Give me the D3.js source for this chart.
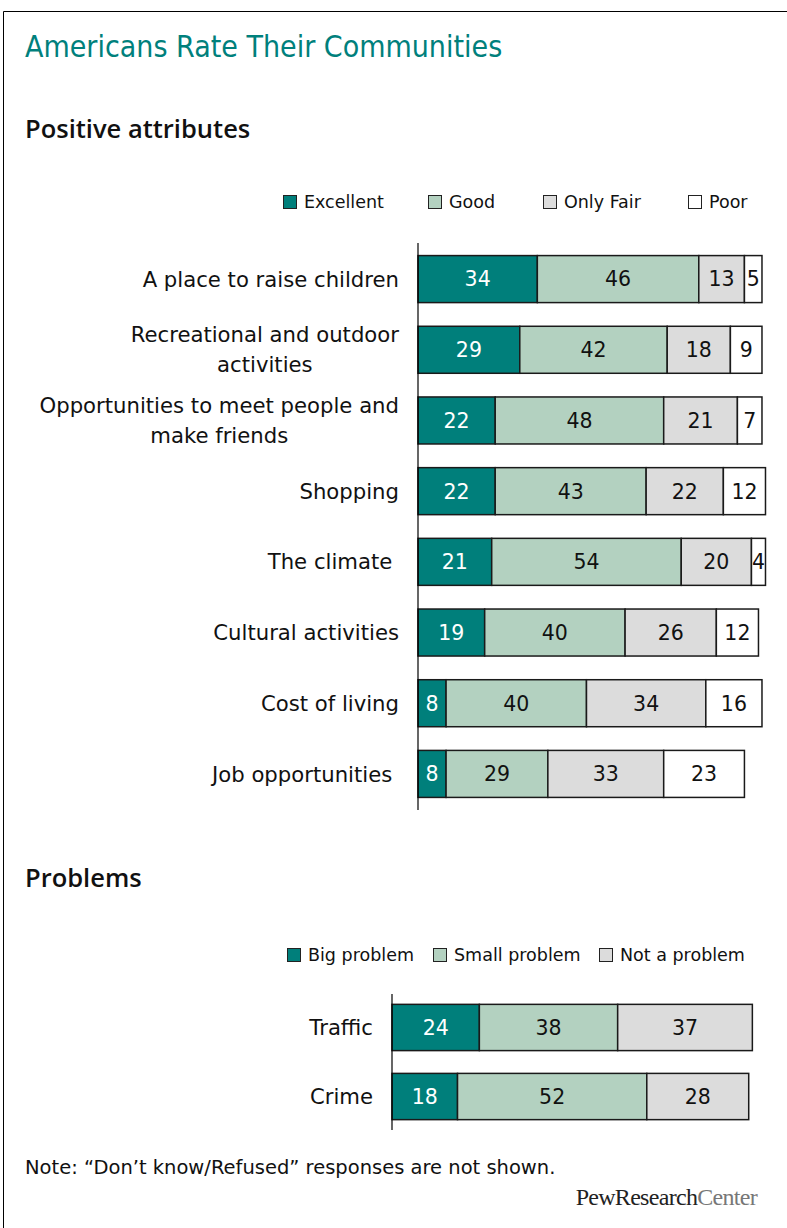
<!DOCTYPE html>
<html>
<head>
<meta charset="utf-8">
<script src="https://cdn.jsdelivr.net/npm/d3@7"></script>
<style>
  html, body { margin: 0; padding: 0; background: #fff; }
  svg { display: block; }
</style>
</head>
<body>
<svg id="chart" width="787" height="1228"></svg>
<script>
// ---- data ----
const posCategories = [
  "A place to raise children",
  "Recreational and outdoor|activities",
  "Opportunities to meet people and|make friends",
  "Shopping",
  "The climate ",
  "Cultural activities",
  "Cost of living",
  "Job opportunities "
];
const posSeries = ["Excellent", "Good", "Only Fair", "Poor"];
const excellent = [34, 29, 22, 22, 21, 19, 8, 8];
const good      = [46, 42, 48, 43, 54, 40, 40, 29];
const onlyFair  = [13, 18, 21, 22, 20, 26, 34, 33];
const poor      = [5, 9, 7, 12, 4, 12, 16, 23];

const probCategories = ["Traffic", "Crime"];
const probSeries = ["Big problem", "Small problem", "Not a problem"];
const bigProblem   = [24, 18];
const smallProblem = [38, 52];
const notProblem   = [37, 28];

const titleText = "Americans Rate Their Communities";
const noteText = "Note: \u201CDon\u2019t know/Refused\u201D responses are not shown.";

// ---- styles ----
const colors4 = ["#007f7b", "#b3d1c0", "#dcdcdc", "#ffffff"];
const colors3 = ["#007f7b", "#b3d1c0", "#dcdcdc"];
const labelFont = "'DejaVu Sans', sans-serif";
const narrowFont = "'DejaVu Sans Condensed', 'DejaVu Sans', sans-serif";

const svg = d3.select("#chart");

// frame (left + top border)
svg.append("path")
  .attr("d", "M3.5,1228 V11.5 H787")
  .attr("fill", "none").attr("stroke", "#000").attr("stroke-width", 1);

// title
svg.append("text").attr("x", 25).attr("y", 57)
  .attr("font-family", narrowFont).attr("font-size", 30)
  .attr("fill", "#00807c").text(titleText);

function sectionHeader(txt, y) {
  svg.append("text").attr("x", 25).attr("y", y)
    .attr("font-family", "'Open Sans', sans-serif").attr("font-weight", 600)
    .attr("font-size", 25.5).attr("fill", "#111").text(txt);
}
sectionHeader("Positive attributes", 138);
sectionHeader("Problems", 887);

function legend(names, cols, xs, y) {
  const g = svg.append("g");
  names.forEach((n, i) => {
    g.append("rect").attr("x", xs[i] + 0.5).attr("y", y - 12.5)
      .attr("width", 13).attr("height", 13)
      .attr("fill", cols[i]).attr("stroke", "#222").attr("stroke-width", 1);
    g.append("text").attr("x", xs[i] + 21).attr("y", y)
      .attr("font-family", labelFont).attr("font-size", 17.5)
      .attr("fill", "#111").text(n);
  });
}

function stackedChart(opts) {
  const { cats, series, values, cols, x0, unit, yTop, yBot, padIn, padOut, labelRight } = opts;
  const rows = cats.map((c, i) => {
    const o = { cat: c };
    series.forEach((s, j) => o[s] = values[j][i]);
    return o;
  });
  const stack = d3.stack().keys(series)(rows);
  const x = d3.scaleLinear().domain([0, 100]).range([x0, x0 + unit * 100]);
  const y = d3.scaleBand().domain(cats).range([yTop, yBot])
    .paddingInner(padIn).paddingOuter(padOut);

  const g = svg.append("g");
  stack.forEach((layer, j) => {
    const lg = g.append("g");
    lg.selectAll("rect").data(layer).join("rect")
      .attr("x", d => x(d[0]))
      .attr("y", d => y(d.data.cat))
      .attr("width", d => x(d[1]) - x(d[0]))
      .attr("height", y.bandwidth())
      .attr("fill", cols[j]).attr("stroke", "#1a1a1a").attr("stroke-width", 1.5);
    lg.selectAll("text").data(layer).join("text")
      .attr("x", d => (x(d[0]) + x(d[1])) / 2)
      .attr("y", d => y(d.data.cat) + y.bandwidth() / 2)
      .attr("dy", "0.36em")
      .attr("text-anchor", "middle")
      .attr("font-family", labelFont).attr("font-size", 20.5)
      .attr("fill", j === 0 ? "#fff" : "#111")
      .text(d => d[1] - d[0]);
  });

  // axis line
  const axis = d3.axisLeft(y).tickSize(0).tickFormat("");
  const ag = g.append("g").attr("transform", `translate(${x0},0)`).call(axis);
  ag.select(".domain").attr("stroke", "#000").attr("stroke-width", 1.2)
    .attr("d", `M0,${yTop}V${yBot}`);

  // category labels
  const fs = 21.2;
  cats.forEach(c => {
    const lines = c.split("|");
    const cy = y(c) + y.bandwidth() / 2;
    const lh = 30;
    const t = g.append("text")
      .attr("font-family", labelFont).attr("font-size", fs)
      .attr("fill", "#111").style("white-space", "pre");
    if (lines.length === 1) {
      t.attr("x", labelRight).attr("y", cy).attr("dy", "0.36em")
        .attr("text-anchor", "end").text(lines[0]);
    } else {
      const tmp = svg.append("text").attr("font-family", labelFont)
        .attr("font-size", fs).text(lines[0]);
      const w = tmp.node().getComputedTextLength();
      tmp.remove();
      const cx = labelRight - w / 2;
      lines.forEach((ln, k) => {
        t.append("tspan").attr("x", cx).attr("text-anchor", "middle")
          .attr("y", cy + (k - (lines.length - 1) / 2) * lh)
          .attr("dy", "0.36em").text(ln);
      });
    }
  });
}

legend(posSeries, colors4, [283, 428, 543, 688], 208);
stackedChart({
  cats: posCategories, series: posSeries,
  values: [excellent, good, onlyFair, poor], cols: colors4,
  x0: 418, unit: 3.51, yTop: 243, yBot: 810, padIn: 0.335, padOut: 0.178,
  labelRight: 399
});

legend(probSeries, colors3, [287, 433, 599], 961);
stackedChart({
  cats: probCategories, series: probSeries,
  values: [bigProblem, smallProblem, notProblem], cols: colors3,
  x0: 392, unit: 3.64, yTop: 994, yBot: 1130, padIn: 0.33, padOut: 0.15,
  labelRight: 373
});

// note
svg.append("text").attr("x", 25).attr("y", 1174)
  .attr("font-family", labelFont).attr("font-size", 19.5)
  .attr("fill", "#111").text(noteText);

// logo
const logo = svg.append("text").attr("x", 757).attr("y", 1205)
  .attr("text-anchor", "end")
  .attr("font-family", "'Liberation Serif', serif").attr("font-size", 24)
  .attr("letter-spacing", -0.7);
logo.append("tspan").attr("fill", "#222").text("PewResearch");
logo.append("tspan").attr("fill", "#777").text("Center");
</script>
</body>
</html>
